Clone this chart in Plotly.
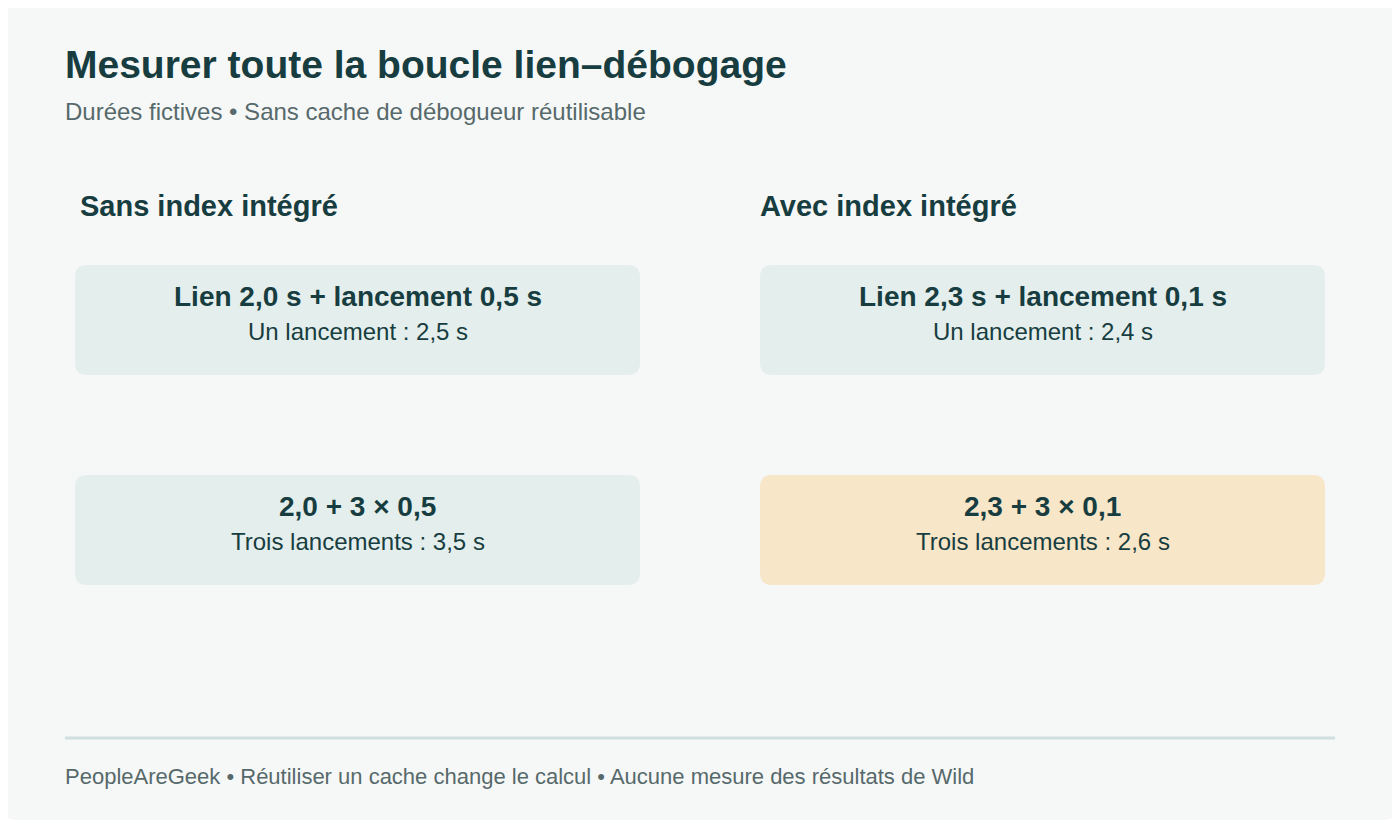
import plotly.graph_objects as go

title = "Mesurer toute la boucle lien–débogage"
subtitle = "Durées fictives • Sans cache de débogueur réutilisable"
columns = ["Sans index intégré", "Avec index intégré"]
link_s = [2.0, 2.3]
launch_s = [0.5, 0.1]
runs = 3
footer = "PeopleAreGeek • Réutiliser un cache change le calcul • Aucune mesure des résultats de Wild"

def fr(v):
    return f"{v:.1f}".replace(".", ",")

W, H = 1400, 820
OFF = 8  # page body margin
FONT = "Liberation Sans, Arial, sans-serif"
DARK = "#173d40"
GREY = "#56696b"

def rrect(x0, y0, x1, y1, r):
    x0 -= OFF; x1 -= OFF; y0 -= OFF; y1 -= OFF
    return (f"M{x0+r},{y0} L{x1-r},{y0} Q{x1},{y0} {x1},{y0+r} L{x1},{y1-r} Q{x1},{y1} {x1-r},{y1} "
            f"L{x0+r},{y1} Q{x0},{y1} {x0},{y1-r} L{x0},{y0+r} Q{x0},{y0} {x0+r},{y0} Z")

shapes = [dict(type="path", path=rrect(0, 0, W, H, 18), fillcolor="#f6f8f7", line=dict(width=0), layer="below"),
          dict(type="line", x0=65-OFF, x1=1335-OFF, y0=738-OFF, y1=738-OFF, line=dict(color="#cfe0df", width=3))]
ann = []
def txt(x, y, t, size, color=DARK, bold=False, anchor="left"):
    ann.append(dict(x=x-OFF, y=y-OFF, text=f"<b>{t}</b>" if bold else t, showarrow=False, xanchor=anchor, yanchor="middle",
                    font=dict(family=FONT, size=size, color=color)))

txt(63, 64, title, 39, bold=True)
txt(63, 111, subtitle, 24, GREY)
txt(63, 776, footer, 22, GREY)

lefts = [75, 760]
head_x = [78, 758]
for i, name in enumerate(columns):
    x0 = lefts[i]; x1 = x0 + 565; cx = (x0 + x1) / 2
    txt(head_x[i], 206, name, 29, bold=True)
    one = link_s[i] + launch_s[i]
    three = link_s[i] + runs * launch_s[i]
    shapes.append(dict(type="path", path=rrect(x0, 265, x1, 375, 12), fillcolor="#e4eeec", line=dict(width=0), layer="below"))
    txt(cx, 296, f"Lien {fr(link_s[i])} s + lancement {fr(launch_s[i])} s", 28, bold=True, anchor="center")
    txt(cx, 331, f"Un lancement : {fr(one)} s", 24, anchor="center")
    best = three == min(l + runs * s for l, s in zip(link_s, launch_s))
    shapes.append(dict(type="path", path=rrect(x0, 475, x1, 585, 12), fillcolor="#f7e6c8" if best else "#e4eeec",
                       line=dict(width=0), layer="below"))
    txt(cx, 506, f"{fr(link_s[i])} + {runs} × {fr(launch_s[i])}", 28, bold=True, anchor="center")
    txt(cx, 541, f"Trois lancements : {fr(three)} s", 24, anchor="center")

fig = go.Figure()
fig.update_layout(width=W, height=H, margin=dict(l=0, r=0, t=0, b=0), paper_bgcolor="white", plot_bgcolor="rgba(0,0,0,0)",
                  xaxis=dict(range=[0, W], visible=False, fixedrange=True),
                  yaxis=dict(range=[H, 0], visible=False, fixedrange=True),
                  shapes=shapes, annotations=ann, showlegend=False)
fig.write_html("out.html")
